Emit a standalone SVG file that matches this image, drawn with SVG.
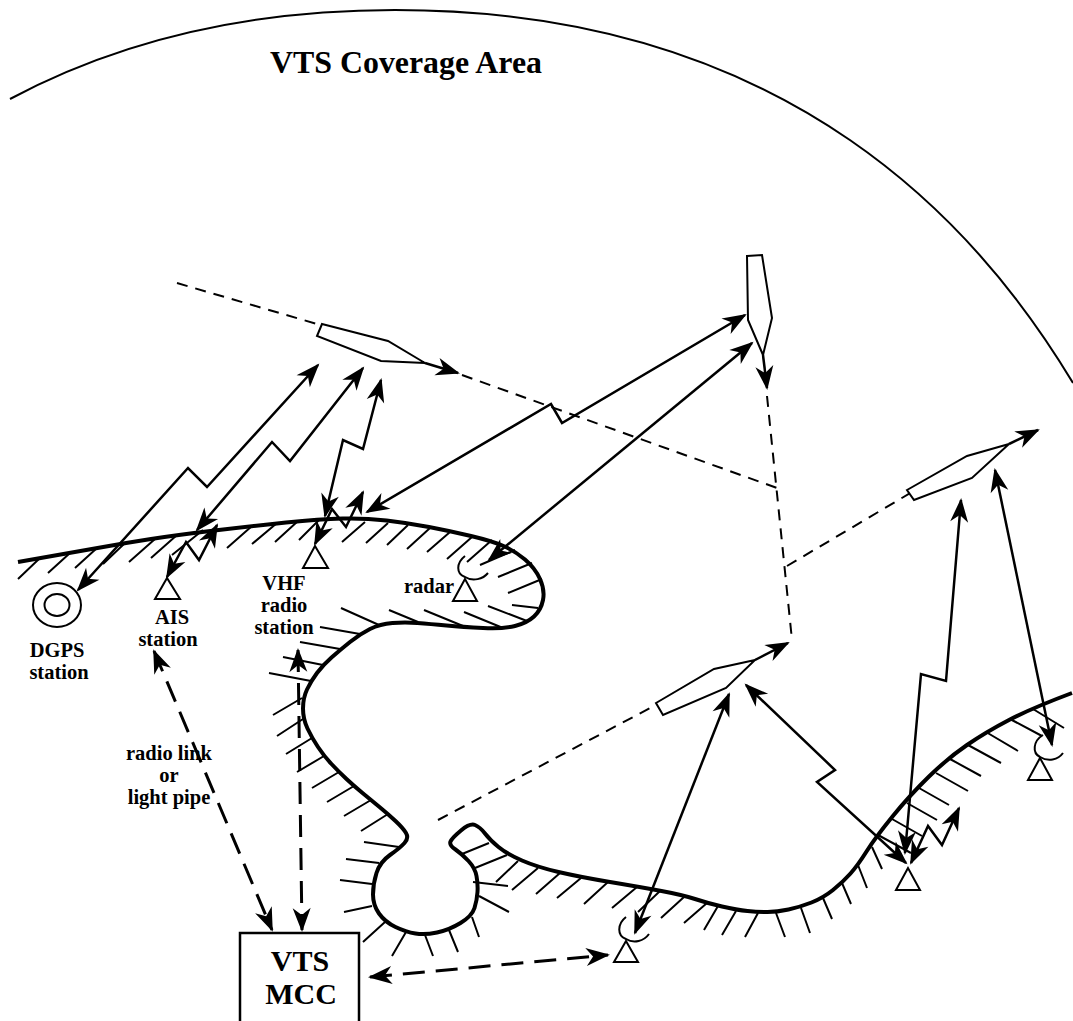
<svg xmlns="http://www.w3.org/2000/svg" width="1073" height="1021" viewBox="0 0 1073 1021">
<style>
.l{fill:none;stroke:#000;stroke-width:2;stroke-linejoin:miter}
.a{fill:none;stroke:#000;stroke-width:2.5;stroke-linejoin:miter;marker-start:url(#h);marker-end:url(#h)}
.e{fill:none;stroke:#000;stroke-width:2.5;marker-end:url(#h)}
.d{fill:none;stroke:#000;stroke-width:2;stroke-dasharray:11 8}
.t{fill:none;stroke:#000;stroke-width:3;stroke-dasharray:22 11;marker-start:url(#h);marker-end:url(#h)}
.s{fill:#fff;stroke:#000;stroke-width:2}
text{font-family:"Liberation Serif","Times New Roman",serif;font-weight:bold;text-anchor:middle;fill:#000}
.m{font-size:20.5px}
</style>
<defs>
<marker id="h" markerUnits="userSpaceOnUse" markerWidth="28" markerHeight="24" viewBox="-25 -12 28 24" refX="0" refY="0" orient="auto-start-reverse">
<path d="M2 0L-22 -9L-15 0L-22 9Z" fill="#000"/>
</marker>
</defs>
<rect width="1073" height="1021" fill="#fff"/>
<g id="coverage"><path d="M10 99C130 35 260 10 395 10C795 10 983 233 1073 383" class="l"/></g>
<g id="hatching">
<path class="l" d="M40 558L18 579M70 553L48 573M97 548L75 568M125 543L103 564M155 539L129 562M177 535L151 558M203 530L172 555M252 526L227 548M277 523L252 544M298 521L275 542M320 519L299 540M365 522L342 542M388 523L366 543M408 525L387 545M430 528L407 549M450 532L427 552M472 537L447 559M492 540L467 562M515 550L480 565M532 563L498 577M542 579L508 593M538 608L512 605M527 621L488 606M503 628L464 612M463 626L424 610M418 622L389 610M379 625L341 608M360 634L320 627M340 649L300 642M323 665L283 657M311 681L269 673M302 698L273 715M303 719L277 736M312 738L286 754M324 756L297 772M339 772L312 788M354 786L327 802M371 800L344 816M388 814L361 831M399 847L364 842M379 863L346 859M372 884L340 880M372 906L344 912M385 922L363 942M406 932L392 956M425 935L433 956M449 930L458 952M472 917L479 937M479 896L509 912M473 882L508 886M475 868L507 855M462 854L489 843M518 861L496 882M538 868L512 890M560 873L536 894M581 878L557 898M608 882L584 904M637 887L612 908M660 891L638 912M684 897L661 918M707 903L684 923M718 906L704 930M736 911L722 935M758 913L745 937M776 913L785 937M801 908L810 933M823 898L832 919M842 883L851 904M858 865L867 888M872 847L882 869M878 835L911 853M892 819L922 836M907 803L937 820M919 788L949 805M936 773L968 791M950 759L981 776M968 745L1001 763M986 732L1018 751M1010 719L1042 736M1033 709L1064 728"/>
</g>
<g id="coastline">
<path fill="none" stroke="#000" stroke-width="4" stroke-linecap="butt" d="M18 562Q70 553 97.5 548Q125 543 151 539Q177 535 214.5 530.5Q252 526 286 522.5Q320 519 342.5 518.5Q365 518 386.5 520.5Q408 523 429 527Q450 531 471 536Q492 541 503.5 546Q515 551 525 559.5Q535 568 540 579Q545 590 543 600Q541 610 534 616.5Q527 623 515 626Q503 629 483 628Q463 627 446.5 625.5Q430 624 417.5 623Q405 622 392.5 623Q380 624 370 629Q360 634 350 642Q340 650 331.5 657.5Q323 665 317 673Q311 681 307 689.5Q303 698 303 708.5Q303 719 307.5 728.5Q312 738 318 747Q324 756 331.5 764Q339 772 346.5 779Q354 786 362.5 793Q371 800 379.5 807Q388 814 395.5 821Q403 828 406 833Q409 838 404.5 843Q400 848 390 855Q380 862 376.5 873Q373 884 373 894.5Q373 905 379 913.5Q385 922 395.5 927Q406 932 415.5 933.5Q425 935 437 932.5Q449 930 460.5 923Q472 916 474.5 908Q477 900 477.5 892Q478 884 476.5 876Q475 868 468.5 861Q462 854 455.5 849.5Q449 845 450.5 841.5Q452 838 461 830.5Q470 823 475 825Q480 827 485 833.5Q490 840 498.5 847Q507 854 522 860.5Q537 867 558.5 872Q580 877 610 882Q640 887 661.5 891Q683 895 695 899Q707 903 722 906.5Q737 910 747.5 911Q758 912 767.5 912Q777 912 788.5 909.5Q800 907 811.5 902.5Q823 898 833 890Q843 882 850.5 873.5Q858 865 866.5 851.5Q875 838 892.5 816.5Q910 795 929 776.5Q948 758 967 745Q986 732 1009 720Q1032 708 1072 693"/>
</g>
<g id="connectors">
<path class="d" d="M177 283L317 324"/>
<path class="d" d="M462 375L777 488"/>
<path class="d" d="M767 396L792 640"/>
<path class="d" d="M787 566L912 492"/>
<path class="d" d="M438 820L656 705"/>
<path class="e" d="M425 363L458 373"/>
<path class="e" d="M763 355L767 388"/>
<path class="e" d="M1009 444L1038 430"/>
<path class="e" d="M755 660L788 643"/>
<path class="a" d="M78 590L188 468L207 487L318 365"/>
<path class="a" d="M197 530L272 442L290 461L363 368"/>
<path class="a" d="M167 577L186 542L199 560L217 525"/>
<path class="a" d="M381 380L363 449L343 440L325 516"/>
<path class="a" d="M315 544L332 509L346 527L363 492"/>
<path class="a" d="M367 512L551 404L562 423L745 315"/>
<path class="a" d="M752 343L489 560"/>
<path class="a" d="M729 694L635 933"/>
<path class="a" d="M746 685L835 770L817 782L906 863"/>
<path class="a" d="M961 500L946 681L921 674L905 853"/>
<path class="a" d="M911 863L928 826L942 845L959 808"/>
<path class="a" d="M995 470L1052 745"/>
<path class="t" d="M154 651L272 930"/>
<path class="t" d="M298 650L302 930"/>
<path class="t" d="M370 977L608 955"/>
</g>
<g id="ship-1"><path class="s" d="M322 324L388 341L425 363L381 361L317 336Z"/></g>
<g id="ship-2"><path class="s" d="M747 256L762 255L772 318L763 355L748 320Z"/></g>
<g id="ship-3"><path class="s" d="M907 490L967 456L1009 444L972 478L914 500Z"/></g>
<g id="ship-4"><path class="s" d="M656 703L714 669L755 660L726 688L663 715Z"/></g>
<g id="dgps-station"><ellipse class="l" cx="57" cy="605" rx="24" ry="22"/><ellipse class="l" cx="57" cy="605" rx="12.5" ry="11"/>
<text class="m" x="57" y="657">DGPS</text><text class="m" x="59" y="679">station</text></g>
<g id="ais-station"><path class="l" d="M167 578L155 599H180Z"/>
<text class="m" x="172" y="624">AIS</text><text class="m" x="168" y="646">station</text></g>
<g id="vhf-station"><path class="l" d="M315 546L303 568H328Z"/>
<text class="m" x="284" y="590">VHF</text><text class="m" x="284" y="612">radio</text><text class="m" x="284" y="634">station</text></g>
<g id="radar-1"><path class="l" d="M465 579L453 601H477Z"/><path class="l" d="M465 556C456 563 456 574 465 577C473 582 483 579 488 573"/>
<text class="m" x="429" y="593">radar</text></g>
<g id="radar-2"><path class="l" d="M626 941L614 962H638Z"/><path class="l" d="M626 917C617 924 617 936 626 939C634 944 644 941 649 934"/></g>
<g id="radar-3"><path class="l" d="M1040 758L1028 780H1052Z"/><path class="l" d="M1043 735C1033 741 1032 753 1040 757C1048 762 1058 760 1063 753"/></g>
<g id="station-right"><path class="l" d="M908 868L896 890H920Z"/></g>
<g id="link-label"><text class="m" x="169" y="760">radio link</text><text class="m" x="169" y="782">or</text><text class="m" x="169" y="804">light pipe</text></g>
<g id="title"><text x="406" y="73" font-size="31" textLength="272" lengthAdjust="spacingAndGlyphs">VTS Coverage Area</text></g>
<g id="vts-mcc"><rect x="240" y="933" width="119" height="92" fill="#fff" stroke="#000" stroke-width="2.5"/><text x="300" y="971" font-size="30">VTS</text><text x="301" y="1004" font-size="30">MCC</text></g>
</svg>
